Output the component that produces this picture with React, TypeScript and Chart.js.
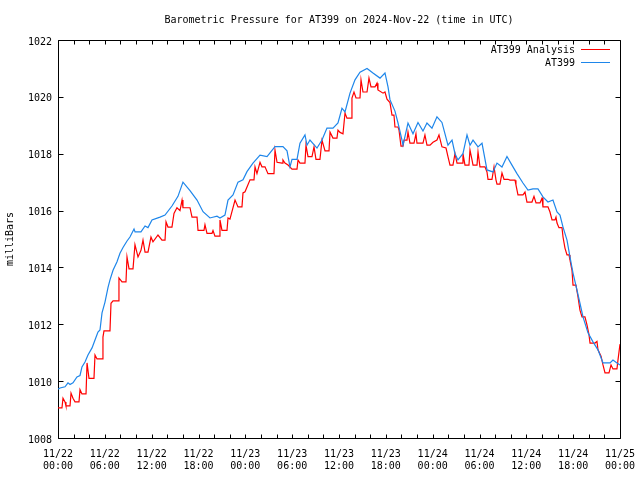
import React, { useEffect, useRef } from 'react';
import { Chart, registerables } from 'chart.js';

Chart.register(...registerables);

const TITLE = 'Barometric Pressure for AT399 on 2024-Nov-22 (time in UTC)';
const Y_TITLE = 'milliBars';
const SERIES_NAMES = ['AT399 Analysis', 'AT399'];
const SERIES_COLORS = ['#ff0000', '#1e86ea'];
const X_TICK_DATES = ['11/22', '11/22', '11/22', '11/22', '11/23', '11/23', '11/23', '11/23', '11/24', '11/24', '11/24', '11/24', '11/25'];
const X_TICK_TIMES = ['00:00', '06:00', '12:00', '18:00', '00:00', '06:00', '12:00', '18:00', '00:00', '06:00', '12:00', '18:00', '00:00'];
const X_TICK_HOURS = [0, 6, 12, 18, 24, 30, 36, 42, 48, 54, 60, 66, 72];
const Y_TICKS = [1008, 1010, 1012, 1014, 1016, 1018, 1020, 1022];
const Y_MIN = 1008;
const Y_MAX = 1022;
const X_MIN = 0;
const X_MAX = 72;
const X_MINOR_STEP = 2;

// hours since 2024-11-22 00:00 UTC
const analysisHours = [
  0, 0.51, 0.64, 0.9, 1.02, 1.54, 1.67, 1.92, 2.18, 2.69, 2.82, 3.07, 3.59, 3.72, 3.97, 4.61, 4.74, 5.0, 5.64, 5.76,
  5.89, 6.66, 6.79, 7.05, 7.69, 7.81, 8.2, 8.71, 8.84, 9.1, 9.61, 9.86, 10.25, 10.63, 10.89, 11.15, 11.53, 11.91, 12.17, 12.81,
  13.32, 13.71, 13.84, 14.09, 14.6, 14.86, 15.24, 15.63, 15.89, 16.01, 16.91, 17.17, 17.81, 17.94, 18.7, 18.83, 19.09, 19.73, 19.86, 20.11,
  20.63, 20.75, 21.01, 21.65, 21.78, 22.03, 22.68, 23.06, 23.57, 23.7, 23.96, 24.6, 25.11, 25.24, 25.49, 25.88, 26.13, 26.52, 26.9, 27.67,
  27.8, 28.06, 28.7, 28.82, 29.08, 29.47, 29.98, 30.62, 30.75, 31.0, 31.64, 31.77, 32.03, 32.54, 32.8, 33.05, 33.56, 33.82, 34.21, 34.72,
  34.85, 35.23, 35.74, 35.87, 36.13, 36.51, 36.77, 37.02, 37.54, 37.66, 37.92, 38.18, 38.69, 38.82, 39.07, 39.59, 39.84, 40.1, 40.61, 40.87,
  40.99, 41.64, 41.89, 42.15, 42.53, 42.79, 43.04, 43.17, 43.56, 43.69, 43.94, 44.2, 44.33, 44.71, 44.84, 45.09, 45.61, 45.86, 45.99, 46.76,
  47.01, 47.27, 47.66, 48.04, 48.55, 48.81, 49.19, 49.71, 49.96, 50.22, 50.6, 50.86, 51.12, 51.76, 51.88, 52.14, 52.65, 52.78, 53.04, 53.17,
  53.68, 53.81, 54.06, 54.7, 54.96, 55.09, 55.6, 55.86, 56.11, 56.24, 56.62, 56.88, 57.14, 57.65, 57.91, 58.55, 58.67, 58.93, 59.57, 59.83,
  60.08, 60.72, 60.98, 61.24, 61.75, 62.01, 62.13, 62.77, 63.03, 63.29, 63.67, 63.8, 63.93, 64.18, 64.57, 64.7, 64.95, 65.21, 65.47, 65.59,
  65.85, 65.98, 66.36, 66.62, 66.87, 67.13, 67.51, 67.77, 68.03, 68.16, 68.8, 69.05, 69.18, 69.57, 69.82, 70.08, 70.59, 70.85, 71.1, 71.61,
  71.74, 72.0,
];
const analysisValues = [
  1009.06, 1009.06, 1009.4, 1009.27, 1009.13, 1009.13, 1009.58, 1009.4, 1009.27, 1009.27, 1009.7, 1009.55, 1009.55, 1010.64, 1010.1, 1010.1, 1010.92, 1010.78, 1010.78, 1011.55,
  1011.77, 1011.77, 1012.74, 1012.82, 1012.82, 1013.63, 1013.49, 1013.49, 1014.37, 1013.95, 1013.95, 1014.8, 1014.37, 1014.6, 1014.96, 1014.54, 1014.54, 1015.07, 1014.9, 1015.14,
  1014.96, 1014.96, 1015.6, 1015.42, 1015.42, 1015.9, 1016.1, 1016.0, 1016.37, 1016.1, 1016.1, 1015.77, 1015.77, 1015.3, 1015.3, 1015.5, 1015.2, 1015.2, 1015.3, 1015.1,
  1015.1, 1015.67, 1015.3, 1015.3, 1015.74, 1015.7, 1016.37, 1016.13, 1016.13, 1016.62, 1016.66, 1017.08, 1017.08, 1017.54, 1017.3, 1017.7, 1017.54, 1017.54, 1017.3, 1017.3,
  1018.13, 1017.7, 1017.67, 1017.78, 1017.67, 1017.6, 1017.46, 1017.46, 1017.78, 1017.67, 1017.67, 1018.3, 1017.9, 1017.9, 1018.24, 1017.8, 1017.8, 1018.48, 1018.1, 1018.1,
  1018.76, 1018.55, 1018.55, 1018.83, 1018.75, 1018.7, 1019.43, 1019.25, 1019.25, 1019.96, 1020.17, 1019.96, 1019.96, 1020.6, 1020.17, 1020.17, 1020.66, 1020.35, 1020.35, 1020.48,
  1020.24, 1020.13, 1020.17, 1019.92, 1019.8, 1019.36, 1019.36, 1018.94, 1018.94, 1018.83, 1018.27, 1018.27, 1018.48, 1018.48, 1018.76, 1018.37, 1018.37, 1018.7, 1018.37, 1018.37,
  1018.66, 1018.3, 1018.3, 1018.4, 1018.48, 1018.66, 1018.24, 1018.2, 1017.9, 1017.6, 1017.6, 1018.0, 1017.67, 1017.67, 1018.0, 1017.6, 1017.6, 1018.13, 1017.78, 1017.6,
  1017.6, 1018.06, 1017.54, 1017.54, 1017.36, 1017.1, 1017.1, 1017.54, 1017.08, 1016.93, 1016.93, 1017.32, 1017.1, 1017.1, 1017.07, 1017.07, 1016.9, 1016.55, 1016.55, 1016.65,
  1016.3, 1016.3, 1016.5, 1016.27, 1016.27, 1016.44, 1016.13, 1016.13, 1015.95, 1015.67, 1015.67, 1015.77, 1015.56, 1015.4, 1015.4, 1015.07, 1014.68, 1014.44, 1014.44, 1014.26,
  1013.9, 1013.38, 1013.38, 1012.96, 1012.5, 1012.26, 1012.26, 1011.98, 1011.63, 1011.34, 1011.34, 1011.4, 1011.1, 1010.88, 1010.57, 1010.29, 1010.29, 1010.57, 1010.43, 1010.43,
  1010.74, 1011.3,
];

const stationHours = [
  0, 0.26, 0.9, 1.28, 1.54, 1.92, 2.43, 2.82, 3.07, 3.46, 3.84, 4.36, 4.74, 5.12, 5.38, 5.64, 6.02, 6.41, 6.66, 7.05,
  7.56, 7.94, 8.33, 8.84, 9.22, 9.74, 9.87, 10.63, 11.15, 11.53, 12.04, 13.07, 13.71, 14.6, 15.37, 16.01, 16.91, 17.81, 18.58, 19.47,
  20.37, 20.75, 21.39, 21.78, 22.42, 23.06, 23.7, 24.21, 24.98, 25.88, 26.78, 27.8, 28.82, 29.34, 29.72, 29.98, 30.62, 31.0, 31.64, 31.9,
  32.28, 33.18, 33.82, 34.46, 35.23, 35.87, 36.38, 36.77, 37.41, 38.05, 38.69, 39.59, 40.35, 41.25, 41.89, 42.28, 42.53, 43.17, 43.56, 44.07,
  44.2, 44.84, 45.48, 46.12, 46.76, 47.27, 47.91, 48.55, 49.19, 49.58, 49.96, 50.48, 50.86, 51.24, 51.88, 52.4, 52.78, 53.17, 53.81, 54.32,
  54.96, 55.73, 56.24, 56.88, 57.52, 58.16, 58.8, 59.57, 60.21, 60.85, 61.49, 62.13, 62.77, 63.41, 63.93, 64.31, 64.7, 65.21, 65.59, 65.98,
  66.49, 66.87, 67.26, 67.9, 68.54, 69.18, 69.82, 70.72, 71.1, 71.61, 72.0,
];
const stationValues = [
  1009.72, 1009.76, 1009.8, 1009.94, 1009.88, 1009.94, 1010.15, 1010.2, 1010.5, 1010.67, 1010.92, 1011.17, 1011.45, 1011.73, 1011.8, 1012.4, 1012.78, 1013.3, 1013.56, 1013.9,
  1014.2, 1014.5, 1014.7, 1014.93, 1015.07, 1015.35, 1015.25, 1015.25, 1015.46, 1015.4, 1015.67, 1015.77, 1015.84, 1016.16, 1016.5, 1017.0, 1016.7, 1016.37, 1015.96, 1015.74,
  1015.8, 1015.74, 1015.84, 1016.37, 1016.55, 1017.0, 1017.08, 1017.37, 1017.67, 1017.95, 1017.9, 1018.25, 1018.25, 1018.1, 1017.54, 1017.8, 1017.8, 1018.37, 1018.66, 1018.3,
  1018.48, 1018.2, 1018.48, 1018.9, 1018.9, 1019.08, 1019.6, 1019.47, 1020.13, 1020.6, 1020.87, 1021.0, 1020.84, 1020.66, 1020.84, 1020.35, 1019.9, 1019.5, 1019.08, 1018.48,
  1018.3, 1019.08, 1018.7, 1019.1, 1018.8, 1019.08, 1018.9, 1019.3, 1019.1, 1018.7, 1018.3, 1018.48, 1018.0, 1017.78, 1018.0, 1018.66, 1018.3, 1018.48, 1018.24, 1018.37,
  1017.43, 1017.36, 1017.67, 1017.53, 1017.9, 1017.6, 1017.3, 1016.97, 1016.72, 1016.76, 1016.76, 1016.48, 1016.3, 1016.37, 1015.95, 1015.84, 1015.42, 1014.96, 1014.37, 1013.8,
  1013.2, 1012.74, 1012.26, 1011.7, 1011.38, 1011.1, 1010.64, 1010.64, 1010.74, 1010.64, 1010.57,
];

const FONT_FAMILY = "'DejaVu Sans Mono', 'Liberation Mono', monospace";

const framePlugin = {
  id: 'gnuplotFrame',
  beforeDatasetsDraw(chart: any) {
    const { ctx, chartArea } = chart;
    const xs = chart.scales.x;
    const ys = chart.scales.y;
    const L = Math.round(chartArea.left) + 0.5;
    const R = Math.round(chartArea.right) + 0.5;
    const T = Math.round(chartArea.top) + 0.5;
    const B = Math.round(chartArea.bottom) + 0.5;
    ctx.save();
    ctx.strokeStyle = '#000';
    ctx.lineWidth = 1;
    ctx.beginPath();
    ctx.rect(L, T, R - L, B - T);
    for (let h = X_MIN; h <= X_MAX; h += X_MINOR_STEP) {
      const px = Math.round(xs.getPixelForValue(h)) + 0.5;
      const len = 4;
      ctx.moveTo(px, B);
      ctx.lineTo(px, B - len);
      ctx.moveTo(px, T);
      ctx.lineTo(px, T + len);
    }
    for (const v of Y_TICKS) {
      const py = Math.round(ys.getPixelForValue(v)) + 0.5;
      ctx.moveTo(L, py);
      ctx.lineTo(L + 5, py);
      ctx.moveTo(R, py);
      ctx.lineTo(R - 5, py);
    }
    ctx.stroke();
    ctx.restore();
  },
  afterDraw(chart: any) {
    const { ctx, chartArea } = chart;
    ctx.save();
    ctx.fillStyle = '#000';
    ctx.font = `10px ${FONT_FAMILY}`;
    ctx.textAlign = 'center';
    ctx.textBaseline = 'middle';
    ctx.fillText(TITLE, (chartArea.left + chartArea.right) / 2, 20);
    ctx.textAlign = 'right';
    const textRight = chartArea.right - 45;
    SERIES_NAMES.forEach((name, i) => {
      const y = chartArea.top + 10 + i * 13;
      ctx.fillStyle = '#000';
      ctx.fillText(name, textRight, y);
      ctx.strokeStyle = SERIES_COLORS[i];
      ctx.lineWidth = 1;
      ctx.beginPath();
      const ly = Math.round(y) - 0.5;
      ctx.moveTo(chartArea.right - 39, ly);
      ctx.lineTo(chartArea.right - 10, ly);
      ctx.stroke();
    });
    ctx.restore();
  },
};

export default function App() {
  const canvasRef = useRef<HTMLCanvasElement | null>(null);

  useEffect(() => {
    const canvas = canvasRef.current;
    if (!canvas) return;
    const analysisData = analysisHours.map((h, i) => ({ x: h, y: analysisValues[i] }));
    const stationData = stationHours.map((h, i) => ({ x: h, y: stationValues[i] }));
    const font = { family: FONT_FAMILY, size: 10, lineHeight: 1.2 };

    const chart = new Chart(canvas, {
      type: 'line',
      data: {
        datasets: [
          {
            label: SERIES_NAMES[0],
            data: analysisData,
            borderColor: SERIES_COLORS[0],
            borderWidth: 1.2,
            pointRadius: 0,
            tension: 0,
            fill: false,
            order: 1,
          },
          {
            label: SERIES_NAMES[1],
            data: stationData,
            borderColor: SERIES_COLORS[1],
            borderWidth: 1.2,
            pointRadius: 0,
            tension: 0,
            fill: false,
            order: 0,
          },
        ],
      },
      options: {
        animation: false,
        responsive: false,
        maintainAspectRatio: false,
        devicePixelRatio: 1,
        layout: { padding: { top: 40, right: 20, left: 0, bottom: 0 } },
        plugins: {
          legend: { display: false },
          title: { display: false },
          tooltip: { enabled: false },
        },
        scales: {
          x: {
            type: 'linear',
            min: X_MIN,
            max: X_MAX,
            grid: { display: false, drawTicks: false },
            border: { display: false },
            afterFit: (s: any) => {
              s.height = 42;
              s.paddingLeft = 0;
              s.paddingRight = 0;
            },
            afterBuildTicks: (s: any) => {
              s.ticks = X_TICK_HOURS.map((v) => ({ value: v }));
            },
            ticks: {
              autoSkip: false,
              maxRotation: 0,
              minRotation: 0,
              padding: 10,
              color: '#000',
              font,
              callback: (_v: any, i: number) => [X_TICK_DATES[i], X_TICK_TIMES[i]],
            },
          },
          y: {
            type: 'linear',
            min: Y_MIN,
            max: Y_MAX,
            grid: { display: false, drawTicks: false },
            border: { display: false },
            afterFit: (s: any) => {
              s.width = 58;
              s.paddingTop = 0;
              s.paddingBottom = 0;
            },
            afterBuildTicks: (s: any) => {
              s.ticks = Y_TICKS.map((v) => ({ value: v }));
            },
            ticks: {
              padding: 6,
              labelOffset: 2,
              color: '#000',
              font,
              callback: (v: any) => String(v),
            },
            title: {
              display: true,
              text: Y_TITLE,
              color: '#000',
              font,
              padding: { top: 4, bottom: 4 },
            },
          },
        },
      },
      plugins: [framePlugin],
    } as any);

    return () => {
      chart.destroy();
    };
  }, []);

  return (
    <div style={{ position: 'fixed', left: 0, top: 0, width: 640, height: 480, background: '#fff' }}>
      <canvas ref={canvasRef} width={640} height={480} style={{ display: 'block', width: 640, height: 480 }} />
    </div>
  );
}
